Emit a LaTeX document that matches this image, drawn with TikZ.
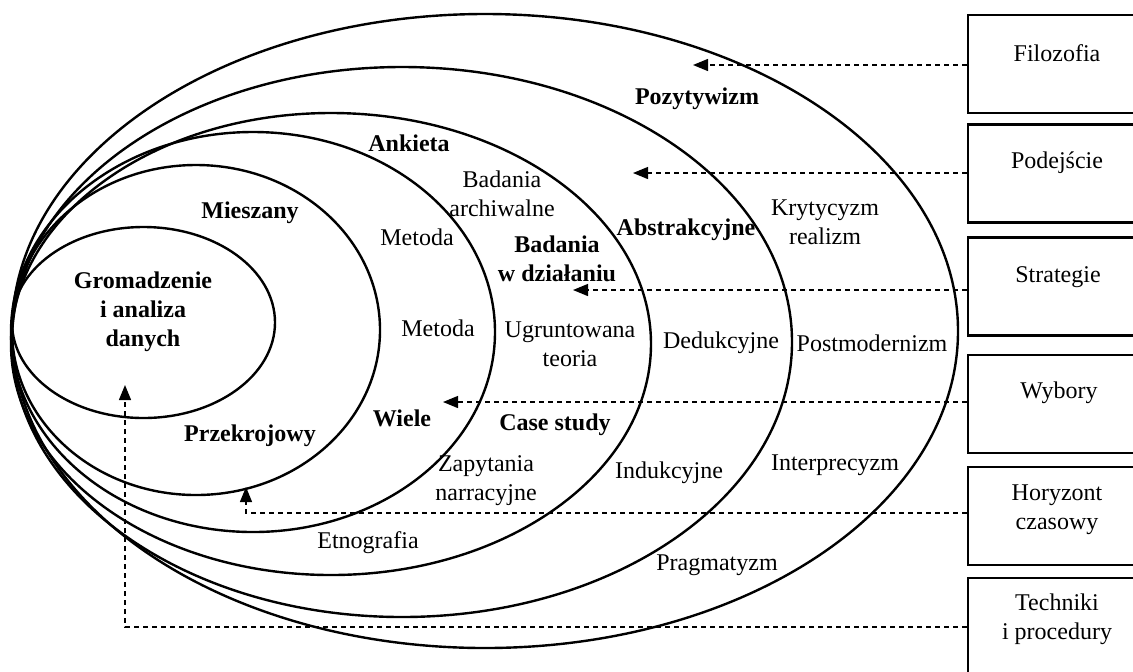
\documentclass[tikz,border=0pt]{standalone}
\usepackage{fontspec}
\setmainfont{Liberation Serif}
\usetikzlibrary{arrows.meta}
\tikzset{
  ring/.style={line width=1.2pt},
  frame/.style={draw, line width=1.3pt, rectangle, minimum width=88.5pt, minimum height=49pt, inner sep=0pt},
  lbl/.style={inner sep=0pt, align=center, font=\fontsize{12}{14.5}\selectfont},
  blbl/.style={lbl, font=\fontsize{12}{14.5}\selectfont\bfseries},
  dasharrow/.style={line width=0.65pt, dash pattern=on 2.5pt off 2pt, -{Triangle[length=7.5pt,width=6pt]}}
}
\begin{document}
\begin{tikzpicture}[x=0.5pt,y=-0.5pt]
\useasboundingbox (0,0) rectangle (1133,671);
\clip (0,0) rectangle (1133,671);
% nested ellipses
\draw[ring] (485,331) ellipse [x radius=236.5pt, y radius=158.5pt];
\draw[ring] (402,342) ellipse [x radius=195pt, y radius=137.5pt];
\draw[ring] (331,344) ellipse [x radius=160pt, y radius=115.5pt];
\draw[ring] (253,332) ellipse [x radius=121pt, y radius=100pt];
\draw[ring] (196,330) ellipse [x radius=92pt, y radius=82.5pt];
\draw[ring] (143.5,322.5) ellipse [x radius=65.75pt, y radius=47.75pt];

% boxes
\node[frame] (fil) at (1056.5,64) {};
\node[frame] (pod) at (1056.5,173.5) {};
\node[frame] (str) at (1056.5,286.5) {};
\node[frame] (wyb) at (1056.5,404) {};
\node[frame] (hor) at (1056.5,516) {};
\node[frame] (tec) at (1056.5,627) {};

\node[lbl] (lfil) at (1057,53) {Filozofia};
\node[lbl] (lpod) at (1057,163) {Podejście};
\node[lbl] (lstr) at (1058,277) {Strategie};
\node[lbl] (lwyb) at (1059,393) {Wybory};
\node[lbl] (lhor) at (1057,510) {Horyzont\\czasowy};
\node[lbl] (ltec) at (1057,619) {Techniki\\i procedury};

% ring labels
\node[blbl] (grom) at (143,312) {Gromadzenie\\i analiza\\danych};
\node[blbl] (mies) at (250,213) {Mieszany};
\node[blbl] (przek) at (250,436) {Przekrojowy};
\node[lbl] (met1) at (417,237) {Metoda};
\node[lbl] (met2) at (438,328) {Metoda};
\node[blbl] (wiele) at (402,418) {Wiele};
\node[blbl] (ank) at (409,143) {Ankieta};
\node[lbl] (barch) at (502,194) {Badania\\archiwalne};
\node[blbl] (bdz) at (557,259) {Badania\\w działaniu};
\node[lbl] (ugr) at (570,344) {Ugruntowana\\teoria};
\node[blbl] (case) at (555,425) {Case study};
\node[lbl] (zap) at (486,481) {Zapytania\\narracyjne};
\node[lbl] (etn) at (368,543) {Etnografia};
\node[blbl] (abs) at (686,230) {Abstrakcyjne};
\node[lbl] (ded) at (721,343) {Dedukcyjne};
\node[lbl] (ind) at (669,473) {Indukcyjne};
\node[blbl] (poz) at (697,99) {Pozytywizm};
\node[lbl] (kryt) at (825,222) {Krytycyzm\\realizm};
\node[lbl] (post) at (872,343) {Postmodernizm};
\node[lbl] (inter) at (835,465) {Interprecyzm};
\node[lbl] (prag) at (717,565) {Pragmatyzm};

% arrow targets
\coordinate (tA) at (693,65);
\coordinate (tB) at (633,173);
\coordinate (tC) at (573,290);
\coordinate (tD) at (443,402);
\coordinate (cE) at (246,513);
\coordinate (tE) at (246,487);
\coordinate (cF) at (125,627);
\coordinate (tF) at (125,385);

\draw[dasharrow] (tA -| fil.west) -- (tA);
\draw[dasharrow] (tB -| pod.west) -- (tB);
\draw[dasharrow] (tC -| str.west) -- (tC);
\draw[dasharrow] (tD -| wyb.west) -- (tD);
\draw[dasharrow] (cE -| hor.west) -- (cE) -- (tE);
\draw[dasharrow] (cF -| tec.west) -- (cF) -- (tF);
\end{tikzpicture}
\end{document}
